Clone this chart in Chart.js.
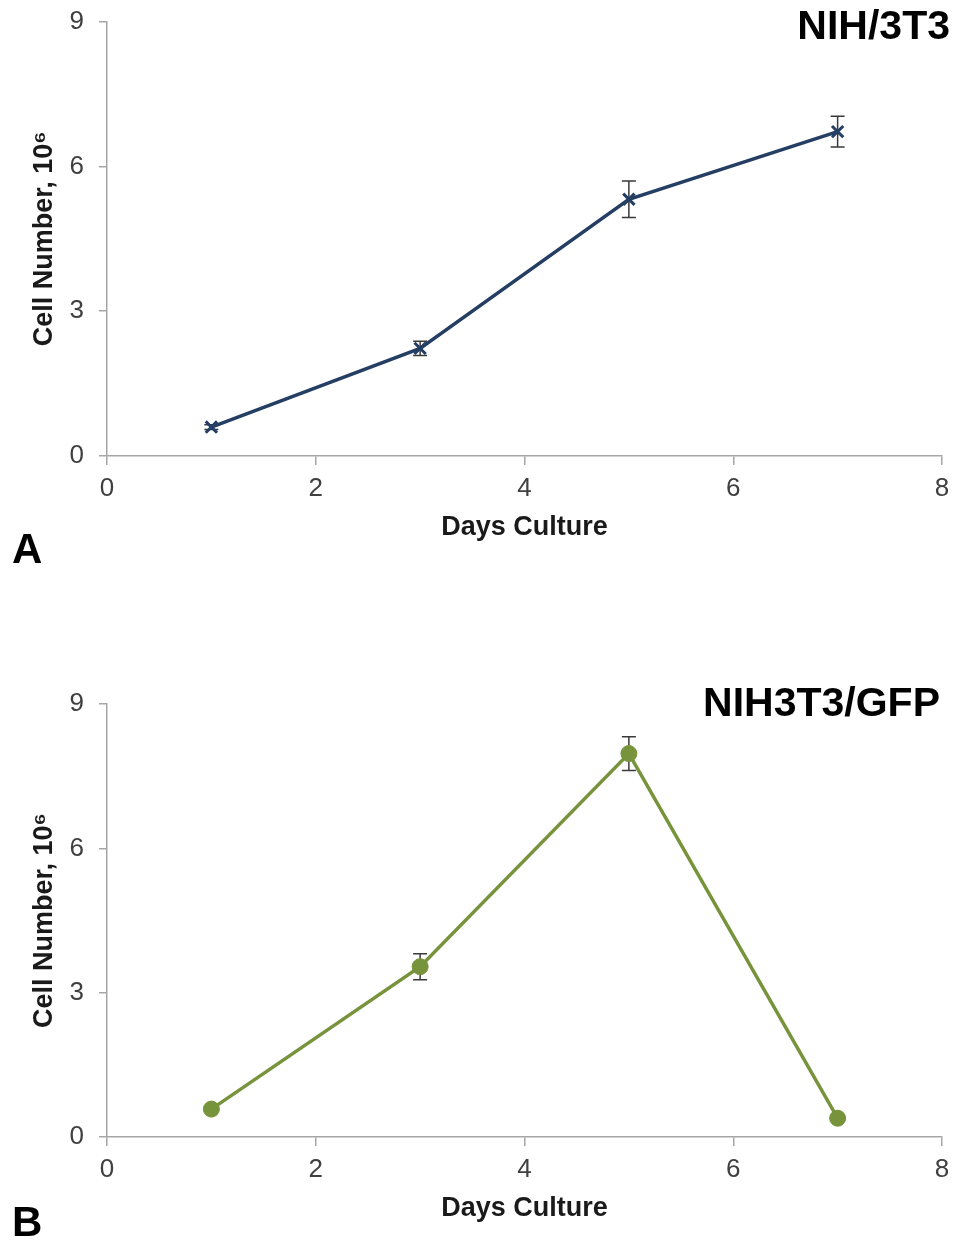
<!DOCTYPE html>
<html>
<head>
<meta charset="utf-8">
<script src="https://cdn.jsdelivr.net/npm/chart.js@4.4.1/dist/chart.umd.min.js"></script>
<style>
  body { margin: 0; background: #fff; overflow: hidden; }
  .panel { position: absolute; left: 0; width: 960px; }
</style>
</head>
<body>
<div class="panel" style="top:-9px;height:600px"><canvas id="chartA" width="960" height="600"></canvas></div>
<div class="panel" style="top:620px;height:620px"><canvas id="chartB" width="960" height="620"></canvas></div>
<script>
// days of culture
const days = [1, 3, 5, 7];

// NIH/3T3 cell numbers (x10^6) and error
const nih3t3 = [0.6, 2.23, 5.32, 6.72];
const nih3t3Err = [0.05, 0.15, 0.38, 0.32];

// NIH3T3/GFP cell numbers (x10^6) and error
const gfp = [0.58, 3.54, 7.97, 0.39];
const gfpErr = [0.03, 0.27, 0.35, 0.05];

const xTicks = [0, 2, 4, 6, 8];
const yTicks = [0, 3, 6, 9];

const FONT = '"Liberation Sans", Arial, sans-serif';
const AXIS = '#a6a6a6';

// error bars, drawn under the markers
const errorBars = {
    id: 'errorBars',
    beforeDatasetsDraw(chart, args, opts) {
        const ctx = chart.ctx;
        const xs = chart.scales.x, ys = chart.scales.y;
        ctx.save();
        ctx.strokeStyle = '#3a3a3a';
        ctx.lineWidth = 1.5;
        opts.values.forEach((v, i) => {
            const x = xs.getPixelForValue(days[i]);
            const top = ys.getPixelForValue(v + opts.errors[i]);
            const bot = ys.getPixelForValue(v - opts.errors[i]);
            ctx.beginPath();
            ctx.moveTo(x, top); ctx.lineTo(x, bot);
            ctx.moveTo(x - 7, top); ctx.lineTo(x + 7, top);
            ctx.moveTo(x - 7, bot); ctx.lineTo(x + 7, bot);
            ctx.stroke();
        });
        ctx.restore();
    }
};

// panel title, axis titles, panel letter
const panelText = {
    id: 'panelText',
    afterDraw(chart, args, o) {
        const ctx = chart.ctx;
        const area = chart.chartArea;
        ctx.save();
        ctx.fillStyle = '#000';
        ctx.font = 'bold 41px ' + FONT;
        ctx.textAlign = 'right';
        ctx.textBaseline = 'middle';
        ctx.fillText(o.title, o.titleX, o.titleY);

        ctx.font = 'bold 27px ' + FONT;
        ctx.fillStyle = '#1a1a1a';
        ctx.textAlign = 'center';
        ctx.fillText('Days Culture', (area.left + area.right) / 2, o.xTitleY);

        ctx.translate(45, (area.top + area.bottom) / 2);
        ctx.rotate(-Math.PI / 2);
        ctx.fillText('Cell Number, 10\u2076', 0, 0);
        ctx.restore();

        ctx.save();
        ctx.fillStyle = '#000';
        ctx.font = 'bold 42px ' + FONT;
        ctx.textAlign = 'left';
        ctx.textBaseline = 'alphabetic';
        ctx.fillText(o.letter, 12, o.letterY);
        ctx.restore();
    }
};

function makeChart(id, values, errors, color, pointStyle, pad, text) {
    const round = pointStyle === 'circle';
    return new Chart(document.getElementById(id), {
        type: 'line',
        data: {
            datasets: [{
                data: days.map((d, i) => ({ x: d, y: values[i] })),
                borderColor: color,
                backgroundColor: color,
                borderWidth: 3.5,
                pointStyle: pointStyle,
                pointRadius: 8,
                pointBorderWidth: round ? 1 : 3,
                pointBorderColor: color,
                pointBackgroundColor: color,
                tension: 0
            }]
        },
        options: {
            responsive: false,
            animation: false,
            devicePixelRatio: 1,
            layout: { padding: { left: 0, right: 18, top: pad.top, bottom: pad.bottom } },
            plugins: {
                legend: { display: false },
                tooltip: { enabled: false },
                errorBars: { values: values, errors: errors },
                panelText: text
            },
            scales: {
                x: {
                    type: 'linear', min: 0, max: 8,
                    afterBuildTicks: s => { s.ticks = xTicks.map(v => ({ value: v })); },
                    afterFit: s => { s.height = 60; },
                    grid: { drawOnChartArea: false, drawTicks: true, tickLength: 9, color: AXIS, lineWidth: 1.5 },
                    border: { color: AXIS, width: 1.5 },
                    ticks: { color: '#404040', font: { family: FONT, size: 26 }, padding: 8, maxRotation: 0 }
                },
                y: {
                    type: 'linear', min: 0, max: 9,
                    afterBuildTicks: s => { s.ticks = yTicks.map(v => ({ value: v })); },
                    afterFit: s => { s.width = 107; },
                    grid: { drawOnChartArea: false, drawTicks: true, tickLength: 8, color: AXIS, lineWidth: 1.5 },
                    border: { color: AXIS, width: 1.5 },
                    ticks: { color: '#404040', font: { family: FONT, size: 26 }, padding: 15 }
                }
            }
        },
        plugins: [errorBars, panelText]
    });
}

// canvas A sits 9px above the page top
makeChart('chartA', nih3t3, nih3t3Err, '#243f63', 'crossRot',
    { top: 0, bottom: 75 },
    { title: 'NIH/3T3', titleX: 950, titleY: 37, xTitleY: 537, letter: 'A', letterY: 572 });

makeChart('chartB', gfp, gfpErr, '#77933c', 'circle',
    { top: 84, bottom: 43 },
    { title: 'NIH3T3/GFP', titleX: 940, titleY: 85, xTitleY: 589, letter: 'B', letterY: 616 });
</script>
</body>
</html>
